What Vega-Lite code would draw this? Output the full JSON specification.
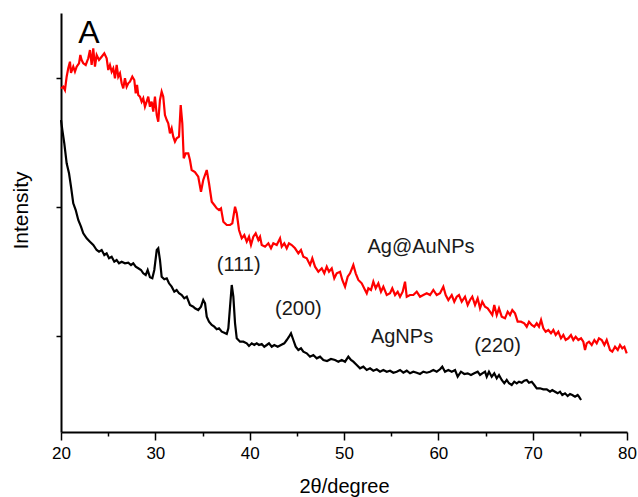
{
  "$schema": "https://vega.github.io/schema/vega-lite/v6.json",
  "width": 566,
  "height": 419,
  "autosize": "none",
  "padding": {"left": 61, "top": 13, "right": 11, "bottom": 65},
  "background": "white",
  "config": {"view": {"stroke": null}, "font": "Liberation Sans"},
  "datasets": {
    "red": [
      {"theta":20.00,"intensity":343.7},{"theta":20.24,"intensity":345.3},{"theta":20.42,"intensity":342},{"theta":20.60,"intensity":355.3},{"theta":20.77,"intensity":363.7},{"theta":20.95,"intensity":370.3},{"theta":21.06,"intensity":359},{"theta":21.30,"intensity":365.3},{"theta":21.48,"intensity":360.3},{"theta":21.66,"intensity":365.3},{"theta":21.91,"intensity":368.7},{"theta":22.05,"intensity":377},{"theta":22.19,"intensity":372},{"theta":22.36,"intensity":368.7},{"theta":22.62,"intensity":367},{"theta":22.89,"intensity":373.7},{"theta":23.07,"intensity":382},{"theta":23.25,"intensity":367},{"theta":23.42,"intensity":383.7},{"theta":23.60,"intensity":365.3},{"theta":23.78,"intensity":377},{"theta":24.03,"intensity":372},{"theta":24.31,"intensity":375.3},{"theta":24.59,"intensity":378.7},{"theta":24.84,"intensity":373.7},{"theta":25.01,"intensity":362},{"theta":25.19,"intensity":367},{"theta":25.37,"intensity":360.3},{"theta":25.54,"intensity":363.7},{"theta":25.72,"intensity":353.7},{"theta":25.90,"intensity":367},{"theta":26.07,"intensity":355.3},{"theta":26.25,"intensity":358.7},{"theta":26.43,"intensity":348.7},{"theta":26.60,"intensity":343.7},{"theta":26.78,"intensity":353.7},{"theta":26.96,"intensity":345.3},{"theta":27.13,"intensity":348.7},{"theta":27.31,"intensity":350.3},{"theta":27.56,"intensity":355.3},{"theta":27.77,"intensity":352},{"theta":27.92,"intensity":338.7},{"theta":28.06,"intensity":347},{"theta":28.19,"intensity":337},{"theta":28.37,"intensity":335.3},{"theta":28.55,"intensity":330.3},{"theta":28.72,"intensity":333.7},{"theta":28.90,"intensity":325.3},{"theta":29.08,"intensity":330.3},{"theta":29.25,"intensity":335.3},{"theta":29.43,"intensity":325.3},{"theta":29.61,"intensity":330.3},{"theta":29.78,"intensity":320.3},{"theta":29.96,"intensity":335.3},{"theta":30.15,"intensity":317},{"theta":30.31,"intensity":310.3},{"theta":30.49,"intensity":332},{"theta":30.67,"intensity":340.3},{"theta":30.84,"intensity":335.3},{"theta":31.02,"intensity":317},{"theta":31.21,"intensity":312},{"theta":31.37,"intensity":308.7},{"theta":31.55,"intensity":298.7},{"theta":31.73,"intensity":303.7},{"theta":31.90,"intensity":295.3},{"theta":32.08,"intensity":290.3},{"theta":32.26,"intensity":293.7},{"theta":32.51,"intensity":295.3},{"theta":32.69,"intensity":327},{"theta":32.86,"intensity":308.7},{"theta":33.01,"intensity":273.7},{"theta":33.22,"intensity":278.7},{"theta":33.49,"intensity":278.7},{"theta":33.67,"intensity":272},{"theta":33.85,"intensity":262},{"theta":34.20,"intensity":260},{"theta":34.55,"intensity":255.3},{"theta":34.84,"intensity":240.3},{"theta":35.08,"intensity":252},{"theta":35.45,"intensity":262},{"theta":35.69,"intensity":248.7},{"theta":35.98,"intensity":230.3},{"theta":36.25,"intensity":227},{"theta":36.51,"intensity":223.7},{"theta":36.75,"intensity":222},{"theta":36.96,"intensity":223.7},{"theta":37.21,"intensity":210.3},{"theta":37.57,"intensity":207},{"theta":37.92,"intensity":207},{"theta":38.16,"intensity":208.7},{"theta":38.45,"intensity":225.3},{"theta":38.63,"intensity":218.7},{"theta":38.87,"intensity":202},{"theta":39.16,"intensity":193.7},{"theta":39.43,"intensity":197},{"theta":39.69,"intensity":190.3},{"theta":39.93,"intensity":195.3},{"theta":40.14,"intensity":187},{"theta":40.39,"intensity":195.3},{"theta":40.64,"intensity":198.7},{"theta":40.92,"intensity":192},{"theta":41.10,"intensity":195.3},{"theta":41.28,"intensity":187},{"theta":41.63,"intensity":185.3},{"theta":41.98,"intensity":188.7},{"theta":42.26,"intensity":183.7},{"theta":42.51,"intensity":188.7},{"theta":42.87,"intensity":187},{"theta":43.22,"intensity":193.7},{"theta":43.40,"intensity":185.3},{"theta":43.67,"intensity":188.7},{"theta":43.93,"intensity":183.7},{"theta":44.17,"intensity":188.7},{"theta":44.46,"intensity":187},{"theta":44.81,"intensity":183.7},{"theta":45.16,"intensity":178.7},{"theta":45.44,"intensity":182},{"theta":45.69,"intensity":175.3},{"theta":46.05,"intensity":173.7},{"theta":46.40,"intensity":167},{"theta":46.64,"intensity":173.7},{"theta":46.93,"intensity":165.3},{"theta":47.28,"intensity":160.3},{"theta":47.64,"intensity":163.7},{"theta":47.91,"intensity":158.7},{"theta":48.17,"intensity":165.3},{"theta":48.41,"intensity":160.3},{"theta":48.70,"intensity":163.7},{"theta":48.97,"intensity":153.7},{"theta":49.23,"intensity":158.7},{"theta":49.58,"intensity":160.3},{"theta":49.82,"intensity":152},{"theta":50.11,"intensity":145.3},{"theta":50.39,"intensity":155.3},{"theta":50.64,"intensity":158.7},{"theta":50.99,"intensity":167},{"theta":51.24,"intensity":158.7},{"theta":51.52,"intensity":152},{"theta":51.88,"intensity":148.7},{"theta":52.23,"intensity":142},{"theta":52.41,"intensity":138.7},{"theta":52.58,"intensity":143.7},{"theta":52.86,"intensity":142},{"theta":53.11,"intensity":150.3},{"theta":53.36,"intensity":143.7},{"theta":53.64,"intensity":148.7},{"theta":53.92,"intensity":140.3},{"theta":54.17,"intensity":145.3},{"theta":54.53,"intensity":137},{"theta":54.88,"intensity":138.7},{"theta":55.12,"intensity":143.7},{"theta":55.41,"intensity":137},{"theta":55.69,"intensity":140.3},{"theta":55.94,"intensity":135.3},{"theta":56.22,"intensity":140.3},{"theta":56.47,"intensity":150.3},{"theta":56.65,"intensity":135.3},{"theta":57.00,"intensity":137},{"theta":57.35,"intensity":137},{"theta":57.71,"intensity":140.3},{"theta":58.06,"intensity":135.3},{"theta":58.41,"intensity":137},{"theta":58.77,"intensity":138.7},{"theta":59.12,"intensity":137},{"theta":59.47,"intensity":142},{"theta":59.83,"intensity":137},{"theta":60.18,"intensity":138.7},{"theta":60.53,"intensity":145.3},{"theta":60.78,"intensity":137},{"theta":61.06,"intensity":132},{"theta":61.42,"intensity":137},{"theta":61.69,"intensity":130.3},{"theta":61.95,"intensity":135.3},{"theta":62.19,"intensity":137},{"theta":62.48,"intensity":130.3},{"theta":62.83,"intensity":135.3},{"theta":63.11,"intensity":127},{"theta":63.36,"intensity":132},{"theta":63.60,"intensity":135.3},{"theta":63.89,"intensity":127},{"theta":64.17,"intensity":133.7},{"theta":64.42,"intensity":123.7},{"theta":64.66,"intensity":130.3},{"theta":64.95,"intensity":125.3},{"theta":65.23,"intensity":123.7},{"theta":65.48,"intensity":120.3},{"theta":65.72,"intensity":117},{"theta":65.93,"intensity":127},{"theta":66.19,"intensity":117},{"theta":66.43,"intensity":123.7},{"theta":66.72,"intensity":115.3},{"theta":67.07,"intensity":113.7},{"theta":67.35,"intensity":120.3},{"theta":67.60,"intensity":117},{"theta":67.84,"intensity":122},{"theta":68.13,"intensity":118.7},{"theta":68.41,"intensity":110.3},{"theta":68.76,"intensity":110.3},{"theta":69.11,"intensity":108.7},{"theta":69.37,"intensity":105.3},{"theta":69.61,"intensity":110.3},{"theta":69.90,"intensity":107},{"theta":70.17,"intensity":105.3},{"theta":70.43,"intensity":108.7},{"theta":70.67,"intensity":105.3},{"theta":70.89,"intensity":112},{"theta":71.13,"intensity":103.7},{"theta":71.38,"intensity":100.3},{"theta":71.66,"intensity":102},{"theta":71.94,"intensity":98.7},{"theta":72.19,"intensity":102},{"theta":72.44,"intensity":97},{"theta":72.72,"intensity":100.3},{"theta":73.00,"intensity":93.7},{"theta":73.25,"intensity":97},{"theta":73.50,"intensity":92},{"theta":73.78,"intensity":93.7},{"theta":74.06,"intensity":97},{"theta":74.31,"intensity":92},{"theta":74.56,"intensity":95.3},{"theta":74.84,"intensity":92},{"theta":75.13,"intensity":93.7},{"theta":75.37,"intensity":90.3},{"theta":75.55,"intensity":82},{"theta":75.73,"intensity":88.7},{"theta":75.97,"intensity":90.3},{"theta":76.26,"intensity":87},{"theta":76.54,"intensity":92},{"theta":76.79,"intensity":88.7},{"theta":77.03,"intensity":93.7},{"theta":77.32,"intensity":92},{"theta":77.60,"intensity":87},{"theta":77.85,"intensity":92},{"theta":78.20,"intensity":82},{"theta":78.44,"intensity":80.3},{"theta":78.73,"intensity":85.3},{"theta":79.02,"intensity":82},{"theta":79.26,"intensity":87},{"theta":79.50,"intensity":83.7},{"theta":79.72,"intensity":85.3},{"theta":79.97,"intensity":78.7}
    ],
    "black": [
      {"theta":20.00,"intensity":312},{"theta":20.14,"intensity":302},{"theta":20.35,"intensity":288.7},{"theta":20.60,"intensity":268.7},{"theta":20.85,"intensity":258.7},{"theta":21.06,"intensity":245.3},{"theta":21.30,"intensity":228.7},{"theta":21.56,"intensity":222},{"theta":21.83,"intensity":212},{"theta":22.12,"intensity":205.3},{"theta":22.36,"intensity":198.7},{"theta":22.72,"intensity":193.7},{"theta":23.07,"intensity":190.3},{"theta":23.42,"intensity":187},{"theta":23.78,"intensity":182},{"theta":24.03,"intensity":180.3},{"theta":24.31,"intensity":182},{"theta":24.59,"intensity":177},{"theta":24.84,"intensity":178.7},{"theta":25.09,"intensity":173.7},{"theta":25.37,"intensity":175.3},{"theta":25.65,"intensity":170.3},{"theta":25.90,"intensity":172},{"theta":26.15,"intensity":168.7},{"theta":26.43,"intensity":170.3},{"theta":26.78,"intensity":168.7},{"theta":27.13,"intensity":169.3},{"theta":27.42,"intensity":167},{"theta":27.66,"intensity":168.7},{"theta":27.92,"intensity":165.3},{"theta":28.19,"intensity":163.7},{"theta":28.48,"intensity":162},{"theta":28.72,"intensity":158.7},{"theta":28.98,"intensity":157},{"theta":29.19,"intensity":162},{"theta":29.43,"intensity":154.7},{"theta":29.68,"intensity":153.7},{"theta":29.89,"intensity":162},{"theta":30.15,"intensity":182},{"theta":30.31,"intensity":183.7},{"theta":30.49,"intensity":172},{"theta":30.67,"intensity":155.3},{"theta":30.95,"intensity":152.7},{"theta":31.21,"intensity":153.7},{"theta":31.45,"intensity":148.7},{"theta":31.73,"intensity":145.3},{"theta":32.01,"intensity":140.3},{"theta":32.26,"intensity":142},{"theta":32.51,"intensity":138.7},{"theta":32.80,"intensity":137},{"theta":33.07,"intensity":133.7},{"theta":33.33,"intensity":135.3},{"theta":33.67,"intensity":127},{"theta":34.02,"intensity":125.3},{"theta":34.20,"intensity":123.7},{"theta":34.55,"intensity":122},{"theta":34.84,"intensity":125.3},{"theta":35.08,"intensity":132},{"theta":35.27,"intensity":128.7},{"theta":35.45,"intensity":115.3},{"theta":35.69,"intensity":110.3},{"theta":35.98,"intensity":107},{"theta":36.25,"intensity":105.3},{"theta":36.51,"intensity":102.7},{"theta":36.75,"intensity":103.7},{"theta":37.04,"intensity":100.3},{"theta":37.31,"intensity":99.3},{"theta":37.57,"intensity":98},{"theta":37.74,"intensity":103.7},{"theta":37.92,"intensity":125.3},{"theta":38.10,"intensity":147},{"theta":38.27,"intensity":135.3},{"theta":38.45,"intensity":108.7},{"theta":38.63,"intensity":93.7},{"theta":38.98,"intensity":90.3},{"theta":39.33,"intensity":90.3},{"theta":39.69,"intensity":88.7},{"theta":39.93,"intensity":86},{"theta":40.22,"intensity":88.7},{"theta":40.49,"intensity":87},{"theta":40.75,"intensity":88.7},{"theta":40.99,"intensity":87},{"theta":41.28,"intensity":88},{"theta":41.55,"intensity":85.3},{"theta":41.81,"intensity":87},{"theta":42.05,"intensity":88.7},{"theta":42.34,"intensity":85.3},{"theta":42.61,"intensity":87},{"theta":42.97,"intensity":85.3},{"theta":43.32,"intensity":87},{"theta":43.67,"intensity":88.7},{"theta":43.93,"intensity":92},{"theta":44.17,"intensity":95.3},{"theta":44.38,"intensity":98.7},{"theta":44.63,"intensity":92},{"theta":44.88,"intensity":85.3},{"theta":45.16,"intensity":82},{"theta":45.44,"intensity":83.7},{"theta":45.69,"intensity":80.3},{"theta":46.05,"intensity":78.7},{"theta":46.40,"intensity":75.3},{"theta":46.75,"intensity":77},{"theta":47.11,"intensity":73.7},{"theta":47.46,"intensity":75.3},{"theta":47.81,"intensity":72},{"theta":48.20,"intensity":71},{"theta":48.62,"intensity":73},{"theta":49.05,"intensity":72},{"theta":49.40,"intensity":70.3},{"theta":49.76,"intensity":72},{"theta":50.11,"intensity":70.3},{"theta":50.46,"intensity":75.3},{"theta":50.74,"intensity":72},{"theta":50.99,"intensity":70.3},{"theta":51.35,"intensity":67},{"theta":51.70,"intensity":63.7},{"theta":52.05,"intensity":65.3},{"theta":52.41,"intensity":62},{"theta":52.76,"intensity":63.7},{"theta":53.11,"intensity":61.3},{"theta":53.47,"intensity":62.7},{"theta":53.82,"intensity":60.3},{"theta":54.17,"intensity":62},{"theta":54.53,"intensity":60.3},{"theta":54.88,"intensity":61.3},{"theta":55.23,"intensity":59.3},{"theta":55.59,"intensity":60.3},{"theta":55.94,"intensity":62},{"theta":56.29,"intensity":59.3},{"theta":56.65,"intensity":61.3},{"theta":57.00,"intensity":58.7},{"theta":57.35,"intensity":60.3},{"theta":57.71,"intensity":59.3},{"theta":58.06,"intensity":58},{"theta":58.41,"intensity":60.3},{"theta":58.77,"intensity":59.3},{"theta":59.12,"intensity":60.3},{"theta":59.47,"intensity":62},{"theta":59.83,"intensity":60.3},{"theta":60.18,"intensity":62.7},{"theta":60.42,"intensity":65.3},{"theta":60.71,"intensity":60.3},{"theta":61.06,"intensity":62},{"theta":61.42,"intensity":60.3},{"theta":61.77,"intensity":62},{"theta":62.05,"intensity":55.3},{"theta":62.40,"intensity":60.3},{"theta":62.75,"intensity":58},{"theta":63.11,"intensity":58.7},{"theta":63.46,"intensity":57},{"theta":63.81,"intensity":58.7},{"theta":64.17,"intensity":60.3},{"theta":64.42,"intensity":57},{"theta":64.66,"intensity":58.7},{"theta":64.95,"intensity":60.3},{"theta":65.13,"intensity":55.3},{"theta":65.37,"intensity":60.3},{"theta":65.66,"intensity":55.3},{"theta":65.93,"intensity":58.7},{"theta":66.19,"intensity":53.7},{"theta":66.43,"intensity":57},{"theta":66.72,"intensity":52},{"theta":66.99,"intensity":48.7},{"theta":67.25,"intensity":52},{"theta":67.49,"intensity":48.7},{"theta":67.78,"intensity":47},{"theta":68.05,"intensity":50.3},{"theta":68.31,"intensity":48.7},{"theta":68.55,"intensity":50.3},{"theta":68.84,"intensity":49.3},{"theta":69.11,"intensity":51.3},{"theta":69.37,"intensity":52},{"theta":69.61,"intensity":49.3},{"theta":69.90,"intensity":50.3},{"theta":70.17,"intensity":47},{"theta":70.43,"intensity":43.7},{"theta":70.78,"intensity":43.7},{"theta":71.13,"intensity":42.7},{"theta":71.49,"intensity":42.7},{"theta":71.84,"intensity":40.3},{"theta":72.08,"intensity":42},{"theta":72.37,"intensity":40.3},{"theta":72.65,"intensity":38.7},{"theta":72.90,"intensity":40.3},{"theta":73.14,"intensity":37},{"theta":73.43,"intensity":38.7},{"theta":73.71,"intensity":36},{"theta":73.96,"intensity":38},{"theta":74.20,"intensity":37},{"theta":74.49,"intensity":35.3},{"theta":74.77,"intensity":37},{"theta":74.91,"intensity":35.3},{"theta":75.13,"intensity":32}
    ],
    "panel": [{"theta": 22.97, "intensity": 389, "label": "A"}],
    "labels": [
      {"theta": 58.16, "intensity": 179.5, "label": "Ag@AuNPs"},
      {"theta": 56.15, "intensity": 88.7, "label": "AgNPs"},
      {"theta": 38.84, "intensity": 160.8, "label": "(111)"},
      {"theta": 45.16, "intensity": 117, "label": "(200)"},
      {"theta": 66.27, "intensity": 80.5, "label": "(220)"}
    ]
  },
  "encoding": {
    "x": {
      "field": "theta", "type": "quantitative",
      "scale": {"domain": [20, 80], "nice": false, "zero": false},
      "axis": {
        "values": [20, 25, 30, 35, 40, 45, 50, 55, 60, 65, 70, 75, 80],
        "labelExpr": "datum.value % 10 === 0 ? datum.label : ''",
        "tickSize": {"condition": {"test": "datum.value % 10 === 0", "value": 8}, "value": 4},
        "grid": false,
        "domainColor": "#000000", "domainWidth": 2,
        "tickColor": "#000000", "tickWidth": 1.5,
        "labelFontSize": 17, "labelColor": "#000000", "labelPadding": 5, "labelFlush": false,
        "title": "2θ/degree", "titleFontSize": 20, "titleFontWeight": "normal", "titleColor": "#000000",
        "titleY": 60, "titleBaseline": "alphabetic"
      }
    },
    "y": {
      "field": "intensity", "type": "quantitative",
      "scale": {"domain": [0, 419], "nice": false, "zero": false},
      "axis": {
        "values": [96, 225, 354], "labels": false, "tickSize": 5, "grid": false,
        "domainColor": "#000000", "domainWidth": 2,
        "tickColor": "#000000", "tickWidth": 1.5,
        "title": "Intensity", "titleFontSize": 21, "titleFontWeight": "normal", "titleColor": "#000000",
        "titleAngle": 270, "titleX": -40, "titleY": 197, "titleAlign": "center", "titleBaseline": "middle"
      }
    }
  },
  "layer": [
    {"data": {"name": "black"}, "mark": {"type": "line", "color": "#000000", "strokeWidth": 2.2}},
    {"data": {"name": "red"}, "mark": {"type": "line", "color": "#ff0000", "strokeWidth": 2.2}},
    {"data": {"name": "labels"}, "mark": {"type": "text", "fontSize": 20, "color": "#1a1a1a", "align": "center", "baseline": "alphabetic"},
     "encoding": {"text": {"field": "label"}}},
    {"data": {"name": "panel"}, "mark": {"type": "text", "fontSize": 32, "color": "#000000", "align": "center", "baseline": "alphabetic"},
     "encoding": {"text": {"field": "label"}}}
  ]
}
